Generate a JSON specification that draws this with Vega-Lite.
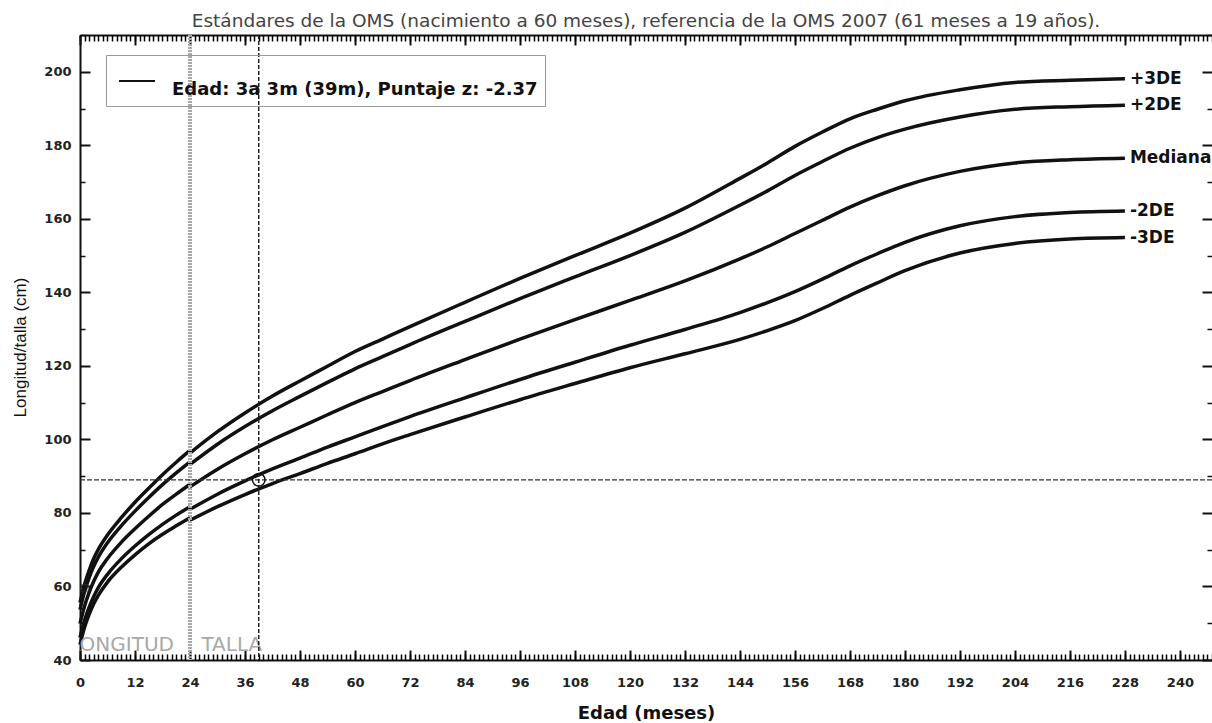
{
  "$schema": "https://vega.github.io/schema/vega-lite/v6.json",
  "autosize": {"type": "none"},
  "padding": {"left": 80, "top": 35, "right": 0, "bottom": 63},
  "width": 1132,
  "height": 625,
  "title": {"text": "Estándares de la OMS (nacimiento a 60 meses), referencia de la OMS 2007 (61 meses a 19 años).", "font": "DejaVu Sans", "fontSize": 18.5, "fontWeight": "normal", "color": "#444", "anchor": "middle", "offset": 3},
  "config": {
    "view": {"stroke": null},
    "axis": {"domainColor": "#111", "domainWidth": 2, "tickColor": "#111", "labelColor": "#222", "labelFont": "DejaVu Sans", "labelFontWeight": "bold", "labelFontSize": 13, "grid": false, "labelOverlap": false, "labelFlush": false}
  },
  "datasets": {
    "curvas": [
      {"curva":"-3DE","tramo":"L","mes":0,"talla":44.2},{"curva":"-3DE","tramo":"L","mes":1,"talla":48.9},{"curva":"-3DE","tramo":"L","mes":2,"talla":52.4},{"curva":"-3DE","tramo":"L","mes":3,"talla":55.3},{"curva":"-3DE","tramo":"L","mes":4,"talla":57.6},{"curva":"-3DE","tramo":"L","mes":6,"talla":61.2},{"curva":"-3DE","tramo":"L","mes":9,"talla":65.2},{"curva":"-3DE","tramo":"L","mes":12,"talla":68.6},{"curva":"-3DE","tramo":"L","mes":15,"talla":71.6},{"curva":"-3DE","tramo":"L","mes":18,"talla":74.2},{"curva":"-3DE","tramo":"L","mes":21,"talla":76.5},{"curva":"-3DE","tramo":"L","mes":24,"talla":78.7},
      {"curva":"-2DE","tramo":"L","mes":0,"talla":46.1},{"curva":"-2DE","tramo":"L","mes":1,"talla":50.8},{"curva":"-2DE","tramo":"L","mes":2,"talla":54.4},{"curva":"-2DE","tramo":"L","mes":3,"talla":57.3},{"curva":"-2DE","tramo":"L","mes":4,"talla":59.7},{"curva":"-2DE","tramo":"L","mes":6,"talla":63.3},{"curva":"-2DE","tramo":"L","mes":9,"talla":67.5},{"curva":"-2DE","tramo":"L","mes":12,"talla":71.0},{"curva":"-2DE","tramo":"L","mes":15,"talla":74.1},{"curva":"-2DE","tramo":"L","mes":18,"talla":76.9},{"curva":"-2DE","tramo":"L","mes":21,"talla":79.4},{"curva":"-2DE","tramo":"L","mes":24,"talla":81.7},
      {"curva":"Mediana","tramo":"L","mes":0,"talla":49.9},{"curva":"Mediana","tramo":"L","mes":1,"talla":54.7},{"curva":"Mediana","tramo":"L","mes":2,"talla":58.4},{"curva":"Mediana","tramo":"L","mes":3,"talla":61.4},{"curva":"Mediana","tramo":"L","mes":4,"talla":63.9},{"curva":"Mediana","tramo":"L","mes":6,"talla":67.6},{"curva":"Mediana","tramo":"L","mes":9,"talla":72.0},{"curva":"Mediana","tramo":"L","mes":12,"talla":75.7},{"curva":"Mediana","tramo":"L","mes":15,"talla":79.1},{"curva":"Mediana","tramo":"L","mes":18,"talla":82.3},{"curva":"Mediana","tramo":"L","mes":21,"talla":85.1},{"curva":"Mediana","tramo":"L","mes":24,"talla":87.8},
      {"curva":"+2DE","tramo":"L","mes":0,"talla":53.7},{"curva":"+2DE","tramo":"L","mes":1,"talla":58.6},{"curva":"+2DE","tramo":"L","mes":2,"talla":62.4},{"curva":"+2DE","tramo":"L","mes":3,"talla":65.5},{"curva":"+2DE","tramo":"L","mes":4,"talla":68.0},{"curva":"+2DE","tramo":"L","mes":6,"talla":71.9},{"curva":"+2DE","tramo":"L","mes":9,"talla":76.5},{"curva":"+2DE","tramo":"L","mes":12,"talla":80.5},{"curva":"+2DE","tramo":"L","mes":15,"talla":84.2},{"curva":"+2DE","tramo":"L","mes":18,"talla":87.7},{"curva":"+2DE","tramo":"L","mes":21,"talla":90.9},{"curva":"+2DE","tramo":"L","mes":24,"talla":93.9},
      {"curva":"+3DE","tramo":"L","mes":0,"talla":55.6},{"curva":"+3DE","tramo":"L","mes":1,"talla":60.6},{"curva":"+3DE","tramo":"L","mes":2,"talla":64.4},{"curva":"+3DE","tramo":"L","mes":3,"talla":67.6},{"curva":"+3DE","tramo":"L","mes":4,"talla":70.1},{"curva":"+3DE","tramo":"L","mes":6,"talla":74.0},{"curva":"+3DE","tramo":"L","mes":9,"talla":78.7},{"curva":"+3DE","tramo":"L","mes":12,"talla":82.9},{"curva":"+3DE","tramo":"L","mes":15,"talla":86.7},{"curva":"+3DE","tramo":"L","mes":18,"talla":90.4},{"curva":"+3DE","tramo":"L","mes":21,"talla":93.8},{"curva":"+3DE","tramo":"L","mes":24,"talla":97.0},
      {"curva":"-3DE","tramo":"T","mes":24,"talla":78.0},{"curva":"-3DE","tramo":"T","mes":30,"talla":81.7},{"curva":"-3DE","tramo":"T","mes":36,"talla":85.0},{"curva":"-3DE","tramo":"T","mes":42,"talla":88.0},{"curva":"-3DE","tramo":"T","mes":48,"talla":90.7},{"curva":"-3DE","tramo":"T","mes":54,"talla":93.5},{"curva":"-3DE","tramo":"T","mes":60,"talla":96.1},{"curva":"-3DE","tramo":"T","mes":66,"talla":98.8},{"curva":"-3DE","tramo":"T","mes":72,"talla":101.3},{"curva":"-3DE","tramo":"T","mes":84,"talla":106.1},{"curva":"-3DE","tramo":"T","mes":96,"talla":110.8},{"curva":"-3DE","tramo":"T","mes":108,"talla":115.2},{"curva":"-3DE","tramo":"T","mes":120,"talla":119.5},{"curva":"-3DE","tramo":"T","mes":132,"talla":123.3},{"curva":"-3DE","tramo":"T","mes":144,"talla":127.2},{"curva":"-3DE","tramo":"T","mes":150,"talla":129.6},{"curva":"-3DE","tramo":"T","mes":156,"talla":132.3},{"curva":"-3DE","tramo":"T","mes":162,"talla":135.6},{"curva":"-3DE","tramo":"T","mes":168,"talla":139.2},{"curva":"-3DE","tramo":"T","mes":174,"talla":142.6},{"curva":"-3DE","tramo":"T","mes":180,"talla":145.9},{"curva":"-3DE","tramo":"T","mes":192,"talla":150.7},{"curva":"-3DE","tramo":"T","mes":204,"talla":153.3},{"curva":"-3DE","tramo":"T","mes":216,"talla":154.5},{"curva":"-3DE","tramo":"T","mes":228,"talla":154.9},
      {"curva":"-2DE","tramo":"T","mes":24,"talla":81.0},{"curva":"-2DE","tramo":"T","mes":30,"talla":85.1},{"curva":"-2DE","tramo":"T","mes":36,"talla":88.7},{"curva":"-2DE","tramo":"T","mes":42,"talla":92.0},{"curva":"-2DE","tramo":"T","mes":48,"talla":94.9},{"curva":"-2DE","tramo":"T","mes":54,"talla":97.9},{"curva":"-2DE","tramo":"T","mes":60,"talla":100.7},{"curva":"-2DE","tramo":"T","mes":66,"talla":103.5},{"curva":"-2DE","tramo":"T","mes":72,"talla":106.2},{"curva":"-2DE","tramo":"T","mes":84,"talla":111.3},{"curva":"-2DE","tramo":"T","mes":96,"talla":116.3},{"curva":"-2DE","tramo":"T","mes":108,"talla":121.0},{"curva":"-2DE","tramo":"T","mes":120,"talla":125.6},{"curva":"-2DE","tramo":"T","mes":132,"talla":129.9},{"curva":"-2DE","tramo":"T","mes":144,"talla":134.5},{"curva":"-2DE","tramo":"T","mes":150,"talla":137.2},{"curva":"-2DE","tramo":"T","mes":156,"talla":140.2},{"curva":"-2DE","tramo":"T","mes":162,"talla":143.6},{"curva":"-2DE","tramo":"T","mes":168,"talla":147.2},{"curva":"-2DE","tramo":"T","mes":174,"talla":150.5},{"curva":"-2DE","tramo":"T","mes":180,"talla":153.6},{"curva":"-2DE","tramo":"T","mes":192,"talla":158.1},{"curva":"-2DE","tramo":"T","mes":204,"talla":160.6},{"curva":"-2DE","tramo":"T","mes":216,"talla":161.7},{"curva":"-2DE","tramo":"T","mes":228,"talla":162.1},
      {"curva":"Mediana","tramo":"T","mes":24,"talla":87.1},{"curva":"Mediana","tramo":"T","mes":30,"talla":91.9},{"curva":"Mediana","tramo":"T","mes":36,"talla":96.1},{"curva":"Mediana","tramo":"T","mes":42,"talla":99.9},{"curva":"Mediana","tramo":"T","mes":48,"talla":103.3},{"curva":"Mediana","tramo":"T","mes":54,"talla":106.7},{"curva":"Mediana","tramo":"T","mes":60,"talla":110.0},{"curva":"Mediana","tramo":"T","mes":66,"talla":113.0},{"curva":"Mediana","tramo":"T","mes":72,"talla":116.0},{"curva":"Mediana","tramo":"T","mes":84,"talla":121.7},{"curva":"Mediana","tramo":"T","mes":96,"talla":127.3},{"curva":"Mediana","tramo":"T","mes":108,"talla":132.6},{"curva":"Mediana","tramo":"T","mes":120,"talla":137.8},{"curva":"Mediana","tramo":"T","mes":132,"talla":143.1},{"curva":"Mediana","tramo":"T","mes":144,"talla":149.1},{"curva":"Mediana","tramo":"T","mes":150,"talla":152.4},{"curva":"Mediana","tramo":"T","mes":156,"talla":156.0},{"curva":"Mediana","tramo":"T","mes":162,"talla":159.6},{"curva":"Mediana","tramo":"T","mes":168,"talla":163.2},{"curva":"Mediana","tramo":"T","mes":174,"talla":166.3},{"curva":"Mediana","tramo":"T","mes":180,"talla":169.0},{"curva":"Mediana","tramo":"T","mes":192,"talla":172.9},{"curva":"Mediana","tramo":"T","mes":204,"talla":175.2},{"curva":"Mediana","tramo":"T","mes":216,"talla":176.1},{"curva":"Mediana","tramo":"T","mes":228,"talla":176.5},
      {"curva":"+2DE","tramo":"T","mes":24,"talla":93.2},{"curva":"+2DE","tramo":"T","mes":30,"talla":98.7},{"curva":"+2DE","tramo":"T","mes":36,"talla":103.5},{"curva":"+2DE","tramo":"T","mes":42,"talla":107.8},{"curva":"+2DE","tramo":"T","mes":48,"talla":111.7},{"curva":"+2DE","tramo":"T","mes":54,"talla":115.5},{"curva":"+2DE","tramo":"T","mes":60,"talla":119.2},{"curva":"+2DE","tramo":"T","mes":66,"talla":122.5},{"curva":"+2DE","tramo":"T","mes":72,"talla":125.8},{"curva":"+2DE","tramo":"T","mes":84,"talla":132.1},{"curva":"+2DE","tramo":"T","mes":96,"talla":138.3},{"curva":"+2DE","tramo":"T","mes":108,"talla":144.2},{"curva":"+2DE","tramo":"T","mes":120,"talla":150.0},{"curva":"+2DE","tramo":"T","mes":132,"talla":156.3},{"curva":"+2DE","tramo":"T","mes":144,"talla":163.7},{"curva":"+2DE","tramo":"T","mes":150,"talla":167.6},{"curva":"+2DE","tramo":"T","mes":156,"talla":171.8},{"curva":"+2DE","tramo":"T","mes":162,"talla":175.6},{"curva":"+2DE","tramo":"T","mes":168,"talla":179.2},{"curva":"+2DE","tramo":"T","mes":174,"talla":182.1},{"curva":"+2DE","tramo":"T","mes":180,"talla":184.4},{"curva":"+2DE","tramo":"T","mes":192,"talla":187.7},{"curva":"+2DE","tramo":"T","mes":204,"talla":189.8},{"curva":"+2DE","tramo":"T","mes":216,"talla":190.5},{"curva":"+2DE","tramo":"T","mes":228,"talla":190.9},
      {"curva":"+3DE","tramo":"T","mes":24,"talla":96.3},{"curva":"+3DE","tramo":"T","mes":30,"talla":102.1},{"curva":"+3DE","tramo":"T","mes":36,"talla":107.2},{"curva":"+3DE","tramo":"T","mes":42,"talla":111.8},{"curva":"+3DE","tramo":"T","mes":48,"talla":115.9},{"curva":"+3DE","tramo":"T","mes":54,"talla":119.9},{"curva":"+3DE","tramo":"T","mes":60,"talla":123.9},{"curva":"+3DE","tramo":"T","mes":66,"talla":127.3},{"curva":"+3DE","tramo":"T","mes":72,"talla":130.7},{"curva":"+3DE","tramo":"T","mes":84,"talla":137.3},{"curva":"+3DE","tramo":"T","mes":96,"talla":143.8},{"curva":"+3DE","tramo":"T","mes":108,"talla":150.0},{"curva":"+3DE","tramo":"T","mes":120,"talla":156.1},{"curva":"+3DE","tramo":"T","mes":132,"talla":162.9},{"curva":"+3DE","tramo":"T","mes":144,"talla":171.0},{"curva":"+3DE","tramo":"T","mes":150,"talla":175.2},{"curva":"+3DE","tramo":"T","mes":156,"talla":179.7},{"curva":"+3DE","tramo":"T","mes":162,"talla":183.6},{"curva":"+3DE","tramo":"T","mes":168,"talla":187.2},{"curva":"+3DE","tramo":"T","mes":174,"talla":189.8},{"curva":"+3DE","tramo":"T","mes":180,"talla":192.1},{"curva":"+3DE","tramo":"T","mes":192,"talla":195.1},{"curva":"+3DE","tramo":"T","mes":204,"talla":197.1},{"curva":"+3DE","tramo":"T","mes":216,"talla":197.7},{"curva":"+3DE","tramo":"T","mes":228,"talla":198.1}
    ]
  },
  "resolve": {"axis": {"x": "independent", "y": "independent"}},
  "layer": [
    {
      "data": {"name": "curvas"},
      "mark": {"type": "line", "interpolate": "monotone", "strokeWidth": 3.5, "color": "#111"},
      "encoding": {
        "x": {"field": "mes", "type": "quantitative", "scale": {"domain": [0, 247], "nice": false, "zero": false},
          "axis": {"orient": "bottom", "values": [0,12,24,36,48,60,72,84,96,108,120,132,144,156,168,180,192,204,216,228,240],
            "tickSize": -10, "tickWidth": 2, "labelPadding": 26,
            "title": "Edad (meses)", "titleFont": "DejaVu Sans", "titleFontSize": 18, "titleFontWeight": "bold", "titleColor": "#111",
            "titleX": 566, "titleY": 53, "titleBaseline": "middle", "titleAlign": "center"}},
        "y": {"field": "talla", "type": "quantitative", "scale": {"domain": [40, 210], "nice": false, "zero": false},
          "axis": {"orient": "left", "values": [40,60,80,100,120,140,160,180,200],
            "tickSize": -10, "tickWidth": 2, "labelPadding": 19,
            "title": "Longitud/talla (cm)", "titleFont": "Liberation Sans", "titleFontSize": 17, "titleFontWeight": "normal", "titleColor": "#111",
            "titleX": -60, "titleY": 312, "titleBaseline": "middle", "titleAlign": "center", "titleAngle": -90}},
        "detail": [{"field": "curva"}, {"field": "tramo"}]
      }
    },
    {
      "data": {"name": "curvas"},
      "transform": [{"filter": "datum.mes === 228"}],
      "mark": {"type": "text", "align": "left", "baseline": "middle", "dx": 5, "font": "DejaVu Sans", "fontSize": 17, "fontWeight": "bold", "color": "#111"},
      "encoding": {
        "x": {"field": "mes", "type": "quantitative",
          "axis": {"orient": "top", "labels": false, "title": null, "values": [0,12,24,36,48,60,72,84,96,108,120,132,144,156,168,180,192,204,216,228,240], "tickSize": -10, "tickWidth": 2}},
        "y": {"field": "talla", "type": "quantitative",
          "axis": {"orient": "right", "labels": false, "title": null, "domain": false, "values": [40,60,80,100,120,140,160,180,200], "tickSize": -10, "tickWidth": 2}},
        "text": {"field": "curva"}
      }
    },
    {
      "data": {"values": [{"texto": "LONGITUD", "mes": 20.5, "talla": 44.2}]},
      "mark": {"type": "text", "align": "right", "baseline": "middle", "font": "DejaVu Sans", "fontSize": 20, "color": "#a8a8a8", "clip": true},
      "encoding": {
        "x": {"field": "mes", "type": "quantitative",
          "axis": {"orient": "bottom", "labels": false, "title": null, "domain": false, "tickSize": -6, "tickWidth": 1.5, "tickColor": "#000",
            "values": [0,1,2,3,4,5,6,7,8,9,10,11,12,13,14,15,16,17,18,19,20,21,22,23,24,25,26,27,28,29,30,31,32,33,34,35,36,37,38,39,40,41,42,43,44,45,46,47,48,49,50,51,52,53,54,55,56,57,58,59,60,61,62,63,64,65,66,67,68,69,70,71,72,73,74,75,76,77,78,79,80,81,82,83,84,85,86,87,88,89,90,91,92,93,94,95,96,97,98,99,100,101,102,103,104,105,106,107,108,109,110,111,112,113,114,115,116,117,118,119,120,121,122,123,124,125,126,127,128,129,130,131,132,133,134,135,136,137,138,139,140,141,142,143,144,145,146,147,148,149,150,151,152,153,154,155,156,157,158,159,160,161,162,163,164,165,166,167,168,169,170,171,172,173,174,175,176,177,178,179,180,181,182,183,184,185,186,187,188,189,190,191,192,193,194,195,196,197,198,199,200,201,202,203,204,205,206,207,208,209,210,211,212,213,214,215,216,217,218,219,220,221,222,223,224,225,226,227,228,229,230,231,232,233,234,235,236,237,238,239,240,241,242,243,244,245,246,247]}},
        "y": {"field": "talla", "type": "quantitative",
          "axis": {"orient": "left", "labels": false, "title": null, "domain": false, "tickSize": -5, "tickWidth": 1.5, "values": [50,70,90,110,130,150,170,190,210]}},
        "text": {"field": "texto"}
      }
    },
    {
      "data": {"values": [{"texto": "TALLA", "mes": 26.5, "talla": 44.2}]},
      "mark": {"type": "text", "align": "left", "baseline": "middle", "font": "DejaVu Sans", "fontSize": 20, "color": "#a8a8a8"},
      "encoding": {
        "x": {"field": "mes", "type": "quantitative",
          "axis": {"orient": "top", "labels": false, "title": null, "domain": false, "tickSize": -6, "tickWidth": 1.5, "tickColor": "#000",
            "values": [0,1,2,3,4,5,6,7,8,9,10,11,12,13,14,15,16,17,18,19,20,21,22,23,24,25,26,27,28,29,30,31,32,33,34,35,36,37,38,39,40,41,42,43,44,45,46,47,48,49,50,51,52,53,54,55,56,57,58,59,60,61,62,63,64,65,66,67,68,69,70,71,72,73,74,75,76,77,78,79,80,81,82,83,84,85,86,87,88,89,90,91,92,93,94,95,96,97,98,99,100,101,102,103,104,105,106,107,108,109,110,111,112,113,114,115,116,117,118,119,120,121,122,123,124,125,126,127,128,129,130,131,132,133,134,135,136,137,138,139,140,141,142,143,144,145,146,147,148,149,150,151,152,153,154,155,156,157,158,159,160,161,162,163,164,165,166,167,168,169,170,171,172,173,174,175,176,177,178,179,180,181,182,183,184,185,186,187,188,189,190,191,192,193,194,195,196,197,198,199,200,201,202,203,204,205,206,207,208,209,210,211,212,213,214,215,216,217,218,219,220,221,222,223,224,225,226,227,228,229,230,231,232,233,234,235,236,237,238,239,240,241,242,243,244,245,246,247]}},
        "y": {"field": "talla", "type": "quantitative",
          "axis": {"orient": "right", "labels": false, "title": null, "domain": false, "tickSize": -5, "tickWidth": 1.5, "values": [50,70,90,110,130,150,170,190,210]}},
        "text": {"field": "texto"}
      }
    },
    {
      "data": {"values": [{"mes": 24}]},
      "mark": {"type": "rule", "color": "#a8a8a8", "strokeWidth": 4, "strokeDash": [2, 1]},
      "encoding": {"x": {"field": "mes", "type": "quantitative", "axis": null}}
    },
    {
      "data": {"values": [{"mes": 39}]},
      "mark": {"type": "rule", "color": "#222", "strokeWidth": 1.5, "strokeDash": [4, 2]},
      "encoding": {"x": {"field": "mes", "type": "quantitative", "axis": null}}
    },
    {
      "data": {"values": [{"talla": 89}]},
      "mark": {"type": "rule", "color": "#333", "strokeWidth": 1.3, "strokeDash": [5, 2]},
      "encoding": {"y": {"field": "talla", "type": "quantitative", "axis": null}}
    },
    {
      "data": {"values": [{"mes": 1, "talla": 59.5}]},
      "mark": {"type": "point", "shape": "square", "filled": false, "size": 50, "color": "#333", "strokeWidth": 1},
      "encoding": {
        "x": {"field": "mes", "type": "quantitative", "axis": null},
        "y": {"field": "talla", "type": "quantitative", "axis": null}
      }
    },
    {
      "data": {"values": [{"mes": 39, "talla": 89, "serie": "Edad: 3a 3m (39m), Puntaje z: -2.37"}]},
      "mark": {"type": "point", "shape": "circle", "filled": false, "size": 160, "strokeWidth": 1.5, "opacity": 1},
      "encoding": {
        "x": {"field": "mes", "type": "quantitative", "axis": null},
        "y": {"field": "talla", "type": "quantitative", "axis": null},
        "color": {"field": "serie", "type": "nominal", "scale": {"range": ["#111"]},
          "legend": {"orient": "none", "legendX": 26, "legendY": 20, "title": null, "symbolType": "stroke", "symbolSize": 1296, "symbolStrokeWidth": 2, "symbolStrokeColor": "#111", "symbolOffset": 5,
            "labelFont": "DejaVu Sans", "labelFontSize": 18, "labelFontWeight": "bold", "labelColor": "#111", "labelOffset": 16, "labelBaseline": "top", "labelLimit": 600,
            "padding": 7, "strokeColor": "#999"}}
      }
    }
  ]
}
